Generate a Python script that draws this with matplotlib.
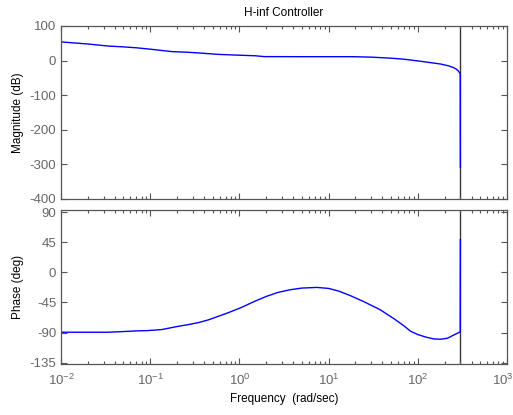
import matplotlib
matplotlib.use("Agg")
import matplotlib.pyplot as plt
import matplotlib.transforms as mtransforms
from matplotlib.ticker import LogLocator, FixedLocator, NullFormatter, NullLocator

plt.rcParams['font.family'] = ['Liberation Sans', 'DejaVu Sans']
plt.rcParams['mathtext.fontset'] = 'custom'
plt.rcParams['mathtext.rm'] = 'Liberation Sans'
plt.rcParams['mathtext.it'] = 'Liberation Sans'
plt.rcParams['axes.unicode_minus'] = False

# Bode response of the H-infinity controller (discrete, Nyquist at ~300 rad/s)
mag_freq = [0.01, 0.02, 0.034, 0.048, 0.07, 0.1, 0.175, 0.27, 0.4, 0.58, 0.9,
            1.5, 1.9, 5, 19, 30, 50, 70, 108, 140, 181, 220, 250, 268, 285,
            299, 300]
mag_db = [54, 48, 42, 40, 37, 33, 26, 24, 21, 18, 16,
          14, 11.5, 11.3, 11.3, 10, 7, 4, -2, -6, -10, -15, -20, -24, -30,
          -38, -308]

ph_freq = [0.01, 0.02, 0.034, 0.05, 0.07, 0.095, 0.135, 0.2, 0.27, 0.35,
           0.45, 0.6, 0.76, 1.03, 1.5, 2, 2.7, 3.7, 5, 7.4, 10, 13, 17.7, 25,
           38, 55, 70, 83, 100, 125, 151, 180, 215, 250, 278, 299, 300]
ph_deg = [-89.5, -89.5, -89.5, -88.5, -87.5, -87, -85.5, -81, -78, -75,
          -71, -65, -60, -53, -43, -36, -30, -26, -23.5, -22.5, -24, -28, -35,
          -44, -56, -70, -80, -88, -93, -97, -99.5, -100, -98.5, -94, -91,
          -89, 49]

nyquist = 300
mag_ticks = [-400, -300, -200, -100, 0, 100]
ph_ticks = [-135, -90, -45, 0, 45, 90]
freq_ticks = [1e-2, 1e-1, 1e0, 1e1, 1e2, 1e3]
freq_labels = ['$10^{-2}$', '$10^{-1}$', '$10^{0}$', '$10^{1}$', '$10^{2}$', '$10^{3}$']
title = "H-inf Controller"

W, H = 513, 415
fig = plt.figure(figsize=(W / 100, H / 100), dpi=100)

def frac(l, t, r, b):
    return [l / W, 1 - b / H, (r - l) / W, (b - t) / H]

ax1 = fig.add_axes(frac(61, 26, 507, 199))
ax2 = fig.add_axes(frac(61, 209.5, 507, 364))

spine_c = '#555555'
label_c = '#666666'
for ax in (ax1, ax2):
    ax.set_xscale('log')
    ax.set_xlim(1e-2, 1e3)
    ax.xaxis.set_major_locator(FixedLocator(freq_ticks))
    ax.xaxis.set_minor_locator(LogLocator(base=10, subs=range(2, 10), numticks=10))
    ax.xaxis.set_minor_formatter(NullFormatter())
    ax.yaxis.set_minor_locator(NullLocator())
    ax.tick_params(which='both', direction='in', top=True, right=True,
                   colors=spine_c, labelcolor=label_c, labelsize=9.5, width=0.8)
    ax.tick_params(which='major', length=4)
    ax.tick_params(which='minor', length=2.5)
    for s in ax.spines.values():
        s.set_color(spine_c)
        s.set_linewidth(0.9)
    ax.axvline(nyquist, color='#333333', lw=1.0, zorder=1)

ax1.plot(mag_freq, mag_db, color='#0000ff', lw=1.0, zorder=2)
ax1.set_ylim(-400, 100)
ax1.yaxis.set_major_locator(FixedLocator(mag_ticks))
ax1.set_xticklabels([])
ax1.set_ylabel('Magnitude (dB)', fontsize=8.5)
ax1.set_title(title, fontsize=8.5, pad=7)

ax2.plot(ph_freq, ph_deg, color='#0000ff', lw=1.0, zorder=2)
ax2.set_ylim(-137, 94)
ax2.yaxis.set_major_locator(FixedLocator(ph_ticks))
ax2.set_xticklabels(freq_labels)
ax2.tick_params(axis='x', which='major', pad=6)
ax2.set_ylabel('Phase (deg)', fontsize=8.5)
ax2.set_xlabel('Frequency  (rad/sec)', fontsize=8.5, labelpad=4)

# keep the last decade label inside the figure edge
last = ax2.get_xticklabels()[-1]
last.set_transform(last.get_transform() +
                   mtransforms.ScaledTranslation(-4 / 100, 0, fig.dpi_scale_trans))

fig.align_ylabels([ax1, ax2])
fig.savefig('out.png', dpi=100)
